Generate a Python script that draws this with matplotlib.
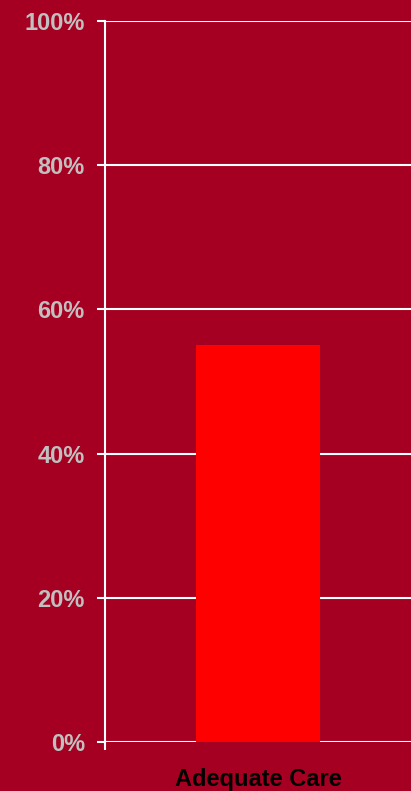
import matplotlib
matplotlib.use("Agg")
import matplotlib.pyplot as plt
from matplotlib.ticker import FixedLocator

categories = ["Adequate Care"]
values = [55]
y_ticks = [0, 20, 40, 60, 80, 100]
y_tick_labels = ["0%", "20%", "40%", "60%", "80%", "100%"]

bg = "#A50021"
plt.rcParams['font.family'] = ['Liberation Sans', 'DejaVu Sans']

W, H = 411, 791
fig = plt.figure(figsize=(W / 100, H / 100), dpi=100, facecolor=bg)
ax = fig.add_axes([105 / W, (791 - 742) / H, (411 - 105) / W, (742 - 21) / H])
ax.set_facecolor(bg)

ax.bar(range(len(categories)), values, width=0.405, color="#FF0000", zorder=2)

ax.set_xlim(-0.5, 0.5)
ax.set_ylim(0, 100)
ax.set_yticks(y_ticks)
ax.set_yticklabels(y_tick_labels, fontsize=17, fontweight="bold", color="#C0C0C0")
ax.set_xticks(range(len(categories)))
ax.set_xticklabels(categories, fontsize=17, fontweight="bold", color="black")

ax.grid(axis="y", color="white", linewidth=1.5, zorder=1)
ax.set_axisbelow(True)

for s in ["top", "right", "bottom"]:
    ax.spines[s].set_visible(False)
ax.spines["left"].set_color("white")
ax.spines["left"].set_linewidth(1.5)

ax.tick_params(axis="y", length=6, width=1.5, color="white", pad=8.5)
ax.tick_params(axis="x", which="major", length=0, pad=19)
ax.xaxis.set_minor_locator(FixedLocator([-0.5]))
ax.tick_params(axis="x", which="minor", length=6, width=1.5, color="white")

fig.savefig("out.png", dpi=100, facecolor=bg)
